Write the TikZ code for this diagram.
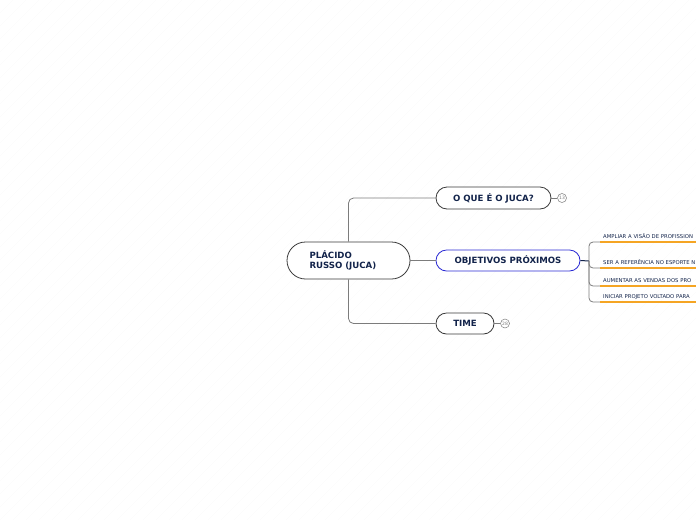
\documentclass[tikz,border=0pt]{standalone}
\usepackage{fontspec}
\setmainfont{DejaVu Sans}
\definecolor{navy}{HTML}{12234A}
\definecolor{pillline}{HTML}{3A3A3A}
\definecolor{focusblue}{HTML}{2B2BD4}
\definecolor{linkgray}{HTML}{7C7C7C}
\definecolor{underorange}{HTML}{F5A524}
\begin{document}
\begin{tikzpicture}[
    x=1pt, y=-1pt,
    hatch/.style={draw=gray!3, line width=0.6pt},
    pill/.style={draw=pillline, line width=0.8pt, fill=white, text=navy,
      font=\fontsize{8.6}{10}\selectfont\bfseries, inner sep=0pt},
    link/.style={draw=linkgray, line width=0.8pt, rounded corners=5pt},
    badge/.style={circle, draw=linkgray, line width=0.5pt, fill=white, minimum size=9pt,
      inner sep=0pt, font=\fontsize{4.5}{5}\selectfont, text=linkgray},
    subitem/.style={anchor=south west, inner xsep=3pt, inner ysep=2.5pt, text width=104pt,
      text height=4pt, text depth=1pt, align=left, text=navy,
      font=\fontsize{5.3}{6}\selectfont},
    uline/.style={draw=underorange, line width=1.3pt},
  ]
    \useasboundingbox (0,0) rectangle (696,520);
    \clip (0,0) rectangle (696,520);

    % faint diagonal background
    \foreach \k in {-520,-507,...,700} {
      \draw[hatch] (\k,520) -- (\k+520,0);
    }

    % === Central topic ===
    \node[pill, rounded corners=18.5pt, minimum width=123pt, minimum height=37pt,
      text width=78pt, inner xsep=22.5pt, align=left] (juca) at (348.5,260.5)
      {PLÁCIDO\\RUSSO (JUCA)};

    % === Main topics ===
    \node[pill, rounded corners=11pt, minimum width=115pt, minimum height=22pt] (oque)
      at (493.5,198) {O QUE É O JUCA?};
    \node[pill, draw=focusblue, rounded corners=10.5pt, minimum width=144pt, minimum height=21pt]
      (objetivos) at (508,260.5) {OBJETIVOS PRÓXIMOS};
    \node[pill, rounded corners=10.5pt, minimum width=58pt, minimum height=21pt] (time)
      at (465,323.5) {TIME};

    \draw[link] (juca.north) |- (oque.west);
    \draw[link] (juca.east) -- (objetivos.west);
    \draw[link] (juca.south) |- (time.west);

    % badges
    \node[badge] (oquenum) at (562,198) {13};
    \node[badge] (timenum) at (505,323.5) {28};
    \draw[link] (oque.east) -- (oquenum.west);
    \draw[link] (time.east) -- (timenum.west);

    % === Sub topics of OBJETIVOS ===
    \coordinate (hub) at (589,261);
    \draw[draw=navy, line width=1pt] (objetivos.east) -- (hub);
    \foreach \n/\y/\txt in {a/242/AMPLIAR A VISÃO DE PROFISSION,
                            b/268/SER A REFERÊNCIA NO ESPORTE N,
                            c/286/AUMENTAR AS VENDAS DOS PRO,
                            d/302/INICIAR PROJETO VOLTADO PARA} {
      \node[subitem] (sub\n) at (600,\y) {\txt};
      \draw[link, rounded corners=4pt] (hub) |- (sub\n.south west);
      \draw[uline] (sub\n.south west) -- (sub\n.south east);
    }
  \end{tikzpicture}
\end{document}
